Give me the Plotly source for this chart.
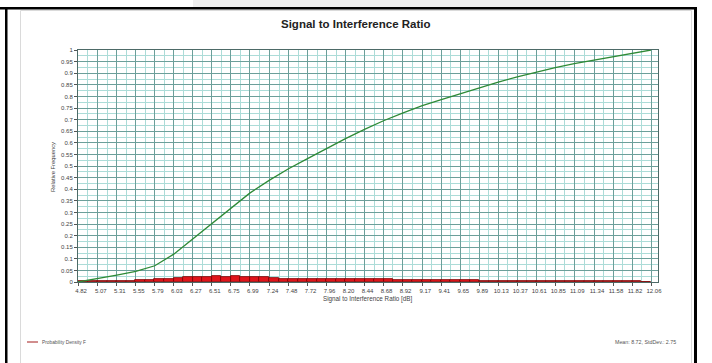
import plotly.graph_objects as go

# ---- data -------------------------------------------------------------
x_tick_labels = ["4.82", "5.07", "5.31", "5.55", "5.79", "6.03", "6.27", "6.51",
                 "6.75", "6.99", "7.24", "7.48", "7.72", "7.96", "8.20", "8.44",
                 "8.68", "8.92", "9.17", "9.41", "9.65", "9.89", "10.13", "10.37",
                 "10.61", "10.85", "11.09", "11.34", "11.58", "11.82", "12.06"]

# cumulative relative frequency at each labelled SIR value
cdf_values = [0.0, 0.017, 0.030, 0.046, 0.070, 0.120, 0.185, 0.250,
              0.315, 0.383, 0.439, 0.488, 0.532, 0.576, 0.618, 0.658,
              0.695, 0.728, 0.760, 0.786, 0.811, 0.838, 0.862, 0.884,
              0.905, 0.924, 0.941, 0.956, 0.970, 0.985, 1.0]

# probability density per histogram bin (two bins per labelled step)
density_values = [0.004, 0.005, 0.004, 0.005, 0.005, 0.006, 0.009, 0.010,
                  0.011, 0.014, 0.019, 0.021, 0.022, 0.021, 0.024, 0.022,
                  0.024, 0.022, 0.021, 0.021, 0.016, 0.015, 0.015, 0.015,
                  0.015, 0.015, 0.014, 0.015, 0.014, 0.013, 0.011, 0.011,
                  0.011, 0.010, 0.010, 0.009, 0.008, 0.009, 0.009, 0.008,
                  0.008, 0.007, 0.006, 0.006, 0.006, 0.005, 0.006, 0.005,
                  0.005, 0.006, 0.005, 0.005, 0.005, 0.005, 0.004, 0.005,
                  0.004, 0.004, 0.003, 0.002]

mean_text = "Mean: 8.72, StdDev.: 2.75"
legend_text = "Probability Density F"

# ---- derived positions ------------------------------------------------
x_ticks = [float(v) for v in x_tick_labels]
x_minor = [(a + b) / 2 for a, b in zip(x_ticks[:-1], x_ticks[1:])]
bin_lo, bin_hi = x_ticks[0], x_ticks[-1]
bin_w = (bin_hi - bin_lo) / len(density_values)
bin_centers = [bin_lo + bin_w * (k + 0.5) for k in range(len(density_values))]

W, H = 712, 363
ML, MR, MT, MB = 78, 54, 50, 81
PW, PH = W - ML - MR, H - MT - MB


def px(x):
    return (x - ML) / PW


def py(y):
    return (H - MB - y) / PH


FONT = "Liberation Sans, Arial, sans-serif"
MAJOR = "#6c9f9a"
MINOR = "#acdcd8"

fig = go.Figure()

fig.add_trace(go.Bar(
    x=bin_centers, y=density_values, width=bin_w,
    marker=dict(color="#e0141a", line=dict(color="#7d0000", width=0.8)),
    showlegend=False, name=legend_text,
))

fig.add_trace(go.Scatter(
    x=x_ticks, y=cdf_values, mode="lines",
    line=dict(color="#2e8a36", width=1.3),
    showlegend=False,
))

fig.update_layout(
    width=W, height=H,
    margin=dict(l=ML, r=MR, t=MT, b=MB),
    paper_bgcolor="white", plot_bgcolor="white",
    bargap=0,
    font=dict(family=FONT, color="#444"),
)

fig.update_xaxes(
    range=[bin_lo, bin_hi + 7 / 79.1],
    tickvals=x_ticks, ticktext=x_tick_labels,
    tickfont=dict(size=6, color="#444"),
    ticks="outside", ticklen=3, tickcolor="#555",
    ticklabelshift=3,
    showgrid=True, gridcolor=MAJOR, gridwidth=1,
    minor=dict(tickvals=x_minor, showgrid=True, gridcolor=MINOR, gridwidth=1),
    showline=True, linecolor="#4d6a67", linewidth=1, mirror=True,
    zeroline=False,
)

fig.update_yaxes(
    range=[0, 1], dtick=0.05, tick0=0,
    tickfont=dict(size=6, color="#444"),
    ticks="outside", ticklen=3, tickcolor="#555",
    showgrid=True, gridcolor=MAJOR, gridwidth=1,
    minor=dict(dtick=0.025, showgrid=True, gridcolor=MINOR, gridwidth=1),
    showline=True, linecolor="#4d6a67", linewidth=1, mirror=True,
    zeroline=False,
)

shapes = []
# page frame and panel
shapes.append(dict(type="rect", xref="paper", yref="paper",
                   x0=px(193), x1=px(570), y0=py(0), y1=py(7),
                   fillcolor="#efefef", line=dict(width=0), layer="below"))
for x0, x1, y0, y1 in [(0, 697, 7, 9.5), (5, 7.5, 7, 363), (694, 697, 7, 363)]:
    shapes.append(dict(type="rect", xref="paper", yref="paper",
                       x0=px(x0), x1=px(x1), y0=py(y0), y1=py(y1),
                       fillcolor="black", line=dict(width=0)))
for x0, y0, x1, y1 in [(20.5, 10.5, 20.5, 363), (20.5, 10.5, 691.5, 10.5),
                       (691.5, 10.5, 691.5, 363)]:
    shapes.append(dict(type="line", xref="paper", yref="paper",
                       x0=px(x0), x1=px(x1), y0=py(y0), y1=py(y1),
                       line=dict(color="#dadada", width=1)))
# legend sample
shapes.append(dict(type="line", xref="paper", yref="paper",
                   x0=px(27), x1=px(38), y0=py(342), y1=py(342),
                   line=dict(color="#a31c1c", width=1)))
fig.update_layout(shapes=shapes)

annotations = [
    dict(text="<b>Signal to Interference Ratio</b>", x=px(356), y=py(24),
         font=dict(size=11.5, color="#222", family=FONT)),
    dict(text="Signal to Interference Ratio [dB]", x=px(368), y=py(299),
         font=dict(size=6.3, color="#444", family=FONT)),
    dict(text="Relative Frequency", x=px(53), y=py(167), textangle=-90,
         font=dict(size=5.8, color="#444", family=FONT)),
    dict(text=legend_text, x=px(40), y=py(342), xanchor="left",
         font=dict(size=4.8, color="#555", family=FONT)),
    dict(text=mean_text, x=px(678), y=py(342), xanchor="right",
         font=dict(size=5.3, color="#555", family=FONT)),
]
for a in annotations:
    a.update(xref="paper", yref="paper", showarrow=False)
    a.setdefault("xanchor", "center")
    a.setdefault("yanchor", "middle")
fig.update_layout(annotations=annotations)

fig.write_html("out.html")
